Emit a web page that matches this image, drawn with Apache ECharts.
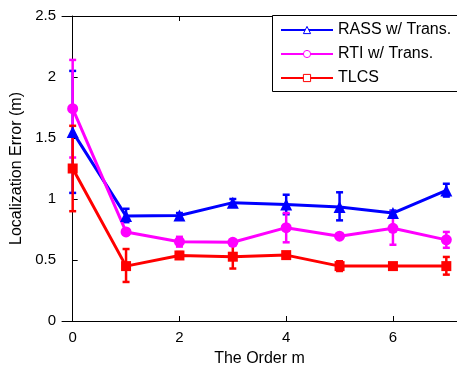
<!DOCTYPE html>
<html>
<head>
<meta charset="utf-8">
<script src="https://cdn.jsdelivr.net/npm/echarts@6/dist/echarts.min.js"></script>
<style>
  html, body { margin: 0; padding: 0; background: #fff; }
  #chart { width: 457px; height: 372px; }
</style>
</head>
<body>
<div id="chart"></div>
<script>
    // 数据
    var order = [0, 1, 2, 3, 4, 5, 6, 7];
    var xTicks = [0, 2, 4, 6];
    var names = ['RASS w/ Trans.', 'RTI w/ Trans.', 'TLCS'];

    var rassMean = [1.55, 0.86, 0.865, 0.97, 0.955, 0.935, 0.885, 1.07];
    var rassLow  = [1.05, 0.81, 0.845, 0.94, 0.875, 0.825, 0.865, 1.02];
    var rassHigh = [2.05, 0.92, 0.885, 1.0, 1.035, 1.055, 0.905, 1.125];

    var rtiMean = [1.74, 0.73, 0.65, 0.645, 0.765, 0.695, 0.76, 0.665];
    var rtiLow  = [1.34, 0.71, 0.61, 0.625, 0.645, 0.675, 0.625, 0.6];
    var rtiHigh = [2.14, 0.75, 0.69, 0.665, 0.885, 0.715, 0.895, 0.73];

    var tlcsMean = [1.25, 0.45, 0.537, 0.527, 0.54, 0.45, 0.45, 0.45];
    var tlcsLow  = [0.9, 0.32, 0.51, 0.43, 0.53, 0.41, 0.43, 0.38];
    var tlcsHigh = [1.6, 0.59, 0.565, 0.625, 0.55, 0.49, 0.47, 0.525];

    var colors = ['#0000ff', '#ff00ff', '#ff0000'];
    var symbols = ['triangle', 'circle', 'rect'];
    var sizes = [12, 11, 10];

    var pairs = function (mean) {
        return order.map(function (x, i) { return [x, mean[i]]; });
    };
    var errData = function (low, high) {
        return order.map(function (x, i) { return [x, low[i], high[i]]; });
    };

    var errSeries = function (name, data, color) {
        return {
            name: name + ' err',
            type: 'custom',
            data: data,
            encode: { x: 0, y: [1, 2] },
            renderItem: function (params, api) {
                var lo = api.coord([api.value(0), api.value(1)]);
                var hi = api.coord([api.value(0), api.value(2)]);
                var w = 3.5;
                var st = { stroke: color, lineWidth: 2.5 };
                return {
                    type: 'group',
                    children: [
                        { type: 'line', shape: { x1: lo[0], y1: lo[1], x2: hi[0], y2: hi[1] }, style: st },
                        { type: 'line', shape: { x1: lo[0] - w, y1: lo[1], x2: lo[0] + w, y2: lo[1] }, style: st },
                        { type: 'line', shape: { x1: hi[0] - w, y1: hi[1], x2: hi[0] + w, y2: hi[1] }, style: st }
                    ]
                };
            }
        };
    };

    var lineSeries = function (idx, data) {
        return {
            name: names[idx],
            type: 'line',
            data: data,
            symbol: symbols[idx],
            symbolSize: sizes[idx],
            lineStyle: { color: colors[idx], width: 3 },
            itemStyle: { color: colors[idx] },
            animation: false
        };
    };

    var tickStyle = { show: true, inside: true, length: 5, lineStyle: { color: '#000' } };
    var font = 'Liberation Sans, Arial, sans-serif';

    var option = {
        animation: false,
        grid: { left: 62, right: -3, top: 16, bottom: 48 },
        // 图例外框（右侧超出画面）
        graphic: [{
            type: 'rect',
            z: 3,
            shape: { x: 272.5, y: 15.5, width: 220, height: 76 },
            style: { fill: '#fff', stroke: '#000', lineWidth: 1 }
        }],
        legend: {
            data: names.map(function (n, i) {
                return { name: n, itemStyle: { color: '#fff', borderColor: colors[i], borderWidth: 1 } };
            }),
            orient: 'vertical',
            left: 272,
            top: 15,
            z: 5,
            itemWidth: 52,
            itemHeight: 9,
            itemGap: 4,
            padding: [5, 0, 4, 8],
            textStyle: { fontSize: 16, fontFamily: font, color: '#000', lineHeight: 20 }
        },
        xAxis: [{
            type: 'value',
            min: -0.2,
            max: 7.2,
            name: 'The Order m',
            nameLocation: 'middle',
            nameGap: 30,
            nameTextStyle: { fontSize: 16, fontFamily: font, color: '#000' },
            axisLine: { show: true, lineStyle: { color: '#000' } },
            axisTick: Object.assign({ customValues: xTicks }, tickStyle),
            axisLabel: { customValues: xTicks, fontSize: 15, fontFamily: font, color: '#000', margin: 9 },
            splitLine: { show: false }
        }, {
            type: 'value',
            position: 'top',
            min: -0.2,
            max: 7.2,
            axisLine: { show: true, lineStyle: { color: '#000' } },
            axisTick: Object.assign({ customValues: xTicks }, tickStyle),
            axisLabel: { show: false, customValues: xTicks },
            splitLine: { show: false }
        }],
        yAxis: {
            type: 'value',
            min: 0,
            max: 2.5,
            interval: 0.5,
            name: 'Localization Error (m)',
            nameLocation: 'middle',
            nameGap: 36,
            nameTextStyle: { fontSize: 16, fontFamily: font, color: '#000' },
            axisLine: { show: true, lineStyle: { color: '#000' } },
            axisTick: tickStyle,
            axisLabel: { fontSize: 15, fontFamily: font, color: '#000', margin: 6 },
            splitLine: { show: false }
        },
        series: [
            errSeries(names[0], errData(rassLow, rassHigh), colors[0]),
            lineSeries(0, pairs(rassMean)),
            errSeries(names[1], errData(rtiLow, rtiHigh), colors[1]),
            lineSeries(1, pairs(rtiMean)),
            errSeries(names[2], errData(tlcsLow, tlcsHigh), colors[2]),
            lineSeries(2, pairs(tlcsMean))
        ]
    };

    var myChart = echarts.init(document.getElementById('chart'));
    myChart.setOption(option);
</script>
</body>
</html>
